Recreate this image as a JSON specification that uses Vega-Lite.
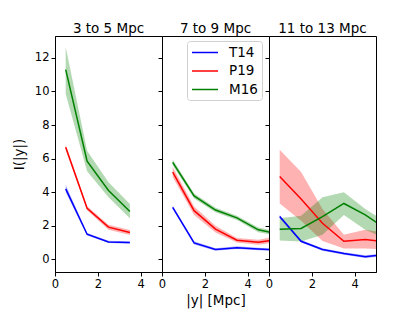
{
  "$schema": "https://vega.github.io/schema/vega-lite/v6.json",
  "padding": {"left": 11, "top": 21, "right": 5, "bottom": 5},
  "background": "white",
  "bounds": "flush",
  "spacing": 0,
  "resolve": {"scale": {"x": "independent", "y": "independent"}, "axis": {"x": "independent", "y": "independent"}},
  "config": {
    "font": "DejaVu Sans",
    "view": {"stroke": "#000", "strokeWidth": 1},
    "axis": {"grid": false, "domainColor": "#000", "tickColor": "#000", "labelColor": "#000", "titleColor": "#000", "labelFontSize": 11.5, "titleFontSize": 13.5, "titleFontWeight": "normal", "tickSize": 4, "labelOverlap": false, "labelFlush": false, "labelBound": false},
    "title": {"fontSize": 13.5, "fontWeight": "normal", "color": "#000", "offset": 1}
  },
  "data": {"values": [
    {"p": "3 to 5 Mpc", "s": "T14", "x": 0.5, "y": 4.2, "lo": 4.0, "hi": 4.45},
    {"p": "3 to 5 Mpc", "s": "T14", "x": 1.5, "y": 1.5, "lo": 1.43, "hi": 1.57},
    {"p": "3 to 5 Mpc", "s": "T14", "x": 2.5, "y": 1.04, "lo": 0.97, "hi": 1.11},
    {"p": "3 to 5 Mpc", "s": "T14", "x": 3.5, "y": 1.0, "lo": 0.93, "hi": 1.07},
    {"p": "3 to 5 Mpc", "s": "P19", "x": 0.5, "y": 6.67, "lo": 6.52, "hi": 6.82},
    {"p": "3 to 5 Mpc", "s": "P19", "x": 1.5, "y": 3.04, "lo": 2.92, "hi": 3.16},
    {"p": "3 to 5 Mpc", "s": "P19", "x": 2.5, "y": 1.92, "lo": 1.77, "hi": 2.07},
    {"p": "3 to 5 Mpc", "s": "P19", "x": 3.5, "y": 1.6, "lo": 1.45, "hi": 1.75},
    {"p": "3 to 5 Mpc", "s": "M16", "x": 0.5, "y": 11.3, "lo": 9.85, "hi": 12.65},
    {"p": "3 to 5 Mpc", "s": "M16", "x": 1.5, "y": 5.85, "lo": 5.25, "hi": 6.47},
    {"p": "3 to 5 Mpc", "s": "M16", "x": 2.5, "y": 4.1, "lo": 3.7, "hi": 4.6},
    {"p": "3 to 5 Mpc", "s": "M16", "x": 3.5, "y": 2.85, "lo": 2.45, "hi": 3.3},
    {"p": "7 to 9 Mpc", "s": "T14", "x": 0.5, "y": 3.1, "lo": 3.0, "hi": 3.2},
    {"p": "7 to 9 Mpc", "s": "T14", "x": 1.5, "y": 0.98, "lo": 0.88, "hi": 1.08},
    {"p": "7 to 9 Mpc", "s": "T14", "x": 2.5, "y": 0.59, "lo": 0.52, "hi": 0.66},
    {"p": "7 to 9 Mpc", "s": "T14", "x": 3.5, "y": 0.7, "lo": 0.62, "hi": 0.78},
    {"p": "7 to 9 Mpc", "s": "T14", "x": 4.5, "y": 0.62, "lo": 0.55, "hi": 0.69},
    {"p": "7 to 9 Mpc", "s": "T14", "x": 5.5, "y": 0.55, "lo": 0.48, "hi": 0.62},
    {"p": "7 to 9 Mpc", "s": "P19", "x": 0.5, "y": 5.2, "lo": 4.9, "hi": 5.5},
    {"p": "7 to 9 Mpc", "s": "P19", "x": 1.5, "y": 2.9, "lo": 2.65, "hi": 3.15},
    {"p": "7 to 9 Mpc", "s": "P19", "x": 2.5, "y": 1.8, "lo": 1.6, "hi": 2.0},
    {"p": "7 to 9 Mpc", "s": "P19", "x": 3.5, "y": 1.14, "lo": 1.0, "hi": 1.28},
    {"p": "7 to 9 Mpc", "s": "P19", "x": 4.5, "y": 1.02, "lo": 0.87, "hi": 1.17},
    {"p": "7 to 9 Mpc", "s": "P19", "x": 5.5, "y": 1.2, "lo": 1.05, "hi": 1.4},
    {"p": "7 to 9 Mpc", "s": "M16", "x": 0.5, "y": 5.78, "lo": 5.6, "hi": 5.95},
    {"p": "7 to 9 Mpc", "s": "M16", "x": 1.5, "y": 3.78, "lo": 3.63, "hi": 3.93},
    {"p": "7 to 9 Mpc", "s": "M16", "x": 2.5, "y": 2.94, "lo": 2.8, "hi": 3.08},
    {"p": "7 to 9 Mpc", "s": "M16", "x": 3.5, "y": 2.47, "lo": 2.35, "hi": 2.6},
    {"p": "7 to 9 Mpc", "s": "M16", "x": 4.5, "y": 1.76, "lo": 1.62, "hi": 1.9},
    {"p": "7 to 9 Mpc", "s": "M16", "x": 5.5, "y": 1.5, "lo": 1.38, "hi": 1.62},
    {"p": "11 to 13 Mpc", "s": "T14", "x": 0.5, "y": 2.55, "lo": 2.45, "hi": 2.65},
    {"p": "11 to 13 Mpc", "s": "T14", "x": 1.5, "y": 1.08, "lo": 1.0, "hi": 1.16},
    {"p": "11 to 13 Mpc", "s": "T14", "x": 2.5, "y": 0.59, "lo": 0.52, "hi": 0.66},
    {"p": "11 to 13 Mpc", "s": "T14", "x": 3.5, "y": 0.35, "lo": 0.28, "hi": 0.42},
    {"p": "11 to 13 Mpc", "s": "T14", "x": 4.5, "y": 0.16, "lo": 0.08, "hi": 0.24},
    {"p": "11 to 13 Mpc", "s": "T14", "x": 5.5, "y": 0.3, "lo": 0.22, "hi": 0.38},
    {"p": "11 to 13 Mpc", "s": "P19", "x": 0.5, "y": 4.94, "lo": 3.33, "hi": 6.53},
    {"p": "11 to 13 Mpc", "s": "P19", "x": 1.5, "y": 3.6, "lo": 2.3, "hi": 5.2},
    {"p": "11 to 13 Mpc", "s": "P19", "x": 2.5, "y": 2.15, "lo": 1.1, "hi": 3.0},
    {"p": "11 to 13 Mpc", "s": "P19", "x": 3.5, "y": 1.08, "lo": 0.65, "hi": 1.47},
    {"p": "11 to 13 Mpc", "s": "P19", "x": 4.5, "y": 1.18, "lo": 0.65, "hi": 1.76},
    {"p": "11 to 13 Mpc", "s": "P19", "x": 5.5, "y": 1.05, "lo": 0.6, "hi": 1.6},
    {"p": "11 to 13 Mpc", "s": "M16", "x": 0.5, "y": 1.8, "lo": 1.12, "hi": 2.45},
    {"p": "11 to 13 Mpc", "s": "M16", "x": 1.5, "y": 1.84, "lo": 1.06, "hi": 2.6},
    {"p": "11 to 13 Mpc", "s": "M16", "x": 2.5, "y": 2.55, "lo": 1.47, "hi": 3.7},
    {"p": "11 to 13 Mpc", "s": "M16", "x": 3.5, "y": 3.33, "lo": 2.65, "hi": 4.0},
    {"p": "11 to 13 Mpc", "s": "M16", "x": 4.5, "y": 2.65, "lo": 1.76, "hi": 3.0},
    {"p": "11 to 13 Mpc", "s": "M16", "x": 5.5, "y": 1.8, "lo": 1.2, "hi": 2.2}
  ]},
  "hconcat": [
    {
      "title": "3 to 5 Mpc",
      "width": 107, "height": 236,
      "transform": [{"filter": "datum.p === '3 to 5 Mpc'"}],
      "encoding": {
        "x": {"field": "x", "type": "quantitative", "scale": {"domain": [0, 5], "nice": false}, "axis": {"values": [0, 2, 4], "title": null, "labelOverlap": false, "labelBound": false, "labelFlush": false}},
        "y": {"field": "y", "type": "quantitative", "scale": {"domain": [-0.75, 13.3], "nice": false, "zero": false}, "axis": {"values": [0, 2, 4, 6, 8, 10, 12], "title": "I(|y|)", "titlePadding": 8}},
        "color": {"field": "s", "type": "nominal", "scale": {"domain": ["T14", "P19", "M16"], "range": ["#0000ff", "#ff0000", "#008000"]}, "legend": {"title": null, "orient": "none", "legendX": 132, "legendY": 5, "symbolType": "M-2,0H2", "symbolSize": 169, "symbolOffset": 6.5, "symbolStrokeWidth": 1.5, "symbolOpacity": 1, "labelFontSize": 13.5, "labelColor": "#000", "strokeColor": "#d0d0d0", "fillColor": "white", "cornerRadius": 3, "padding": 4, "rowPadding": 4.5, "labelOffset": 16.5, "encode": {"symbols": {"update": {"opacity": {"value": 1}, "strokeOpacity": {"value": 1}}}}}}
      },
      "layer": [
        {"mark": {"type": "area", "fillOpacity": 0.3, "clip": true}, "encoding": {"y": {"field": "lo", "type": "quantitative"}, "y2": {"field": "hi"}}},
        {"mark": {"type": "line", "strokeWidth": 1.5, "clip": true}}
      ]
    },
    {
      "title": "7 to 9 Mpc",
      "width": 107, "height": 236,
      "transform": [{"filter": "datum.p === '7 to 9 Mpc'"}],
      "encoding": {
        "x": {"field": "x", "type": "quantitative", "scale": {"domain": [0, 5], "nice": false}, "axis": {"values": [0, 2, 4], "title": "|y| [Mpc]", "labelOverlap": false, "labelBound": false, "labelFlush": false, "labelAlign": "center", "zindex": 2}},
        "y": {"field": "y", "type": "quantitative", "scale": {"domain": [-0.75, 13.3], "nice": false, "zero": false}, "axis": {"values": [0, 2, 4, 6, 8, 10, 12], "labels": false, "domain": false, "title": null}},
        "color": {"field": "s", "type": "nominal"}
      },
      "layer": [
        {"mark": {"type": "area", "fillOpacity": 0.3, "clip": true}, "encoding": {"y": {"field": "lo", "type": "quantitative"}, "y2": {"field": "hi"}}},
        {"mark": {"type": "line", "strokeWidth": 1.5, "clip": true}}
      ]
    },
    {
      "title": "11 to 13 Mpc",
      "width": 107, "height": 236,
      "transform": [{"filter": "datum.p === '11 to 13 Mpc'"}],
      "encoding": {
        "x": {"field": "x", "type": "quantitative", "scale": {"domain": [0, 5], "nice": false}, "axis": {"values": [0, 2, 4], "title": null, "labelOverlap": false, "labelBound": false, "labelFlush": false}},
        "y": {"field": "y", "type": "quantitative", "scale": {"domain": [-0.75, 13.3], "nice": false, "zero": false}, "axis": {"values": [0, 2, 4, 6, 8, 10, 12], "labels": false, "domain": false, "title": null}},
        "color": {"field": "s", "type": "nominal"}
      },
      "layer": [
        {"mark": {"type": "area", "fillOpacity": 0.3, "clip": true}, "encoding": {"y": {"field": "lo", "type": "quantitative"}, "y2": {"field": "hi"}}},
        {"mark": {"type": "line", "strokeWidth": 1.5, "clip": true}}
      ]
    }
  ]
}
